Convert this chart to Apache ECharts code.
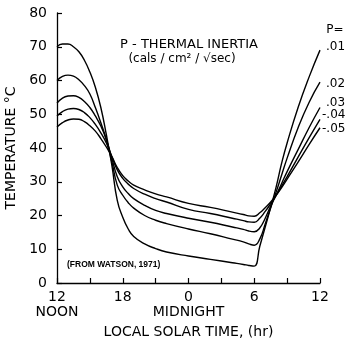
<!DOCTYPE html>
<html>
<head>
<meta charset="utf-8">
<script src="https://cdn.jsdelivr.net/npm/echarts@6/dist/echarts.min.js"></script>
<style>
html,body{margin:0;padding:0;background:#fff;}
#chart{width:350px;height:342px;}
</style>
</head>
<body>
<div id="chart"></div>
<script>
// Local solar time (hours since previous midnight; 24 = midnight, 36 = next noon)
const hours = [12, 12.5, 13, 13.5, 14, 14.5, 15, 15.5, 16, 16.5, 17, 17.5, 18, 18.5, 19, 20, 21, 22, 24, 26, 28, 29, 29.5, 30, 30.5, 31, 31.5, 32, 32.5, 33, 34, 35, 36];

// Temperature (°C) for each thermal inertia P
const p01 = [70, 70.8, 70.8, 70, 68.5, 66, 62.5, 58, 52, 44, 35, 24.5, 19.5, 16, 13.8, 11.6, 10.2, 9.2, 8, 7, 6, 5.5, 5.2, 5, 10.8, 16.6, 22.4, 28.5, 35.5, 41.5, 52, 61, 69];
const p02 = [60, 61.2, 61.6, 61.3, 60.2, 58.5, 56, 52, 47.5, 42.5, 36, 29, 26, 23.8, 22.2, 20, 18.6, 17.6, 16, 14.6, 13, 12.2, 11.6, 11.2, 13, 17.5, 22.3, 27, 32, 37, 46, 53.5, 59.5];
const p03 = [53.3, 54.8, 55.4, 55.5, 55, 53.8, 52, 49.5, 46.5, 42.5, 37, 31.5, 28.5, 26.5, 25, 23, 21.5, 20.6, 19.2, 18, 16.6, 15.9, 15.4, 15.2, 16.3, 19.2, 22.8, 26, 29.5, 33, 39.5, 46, 52];
const p04 = [49.5, 50.8, 51.5, 51.7, 51.4, 50.5, 49, 47, 44.5, 41.5, 37.5, 33.5, 31, 29.3, 28, 26.3, 25, 24, 21.8, 20.6, 19.2, 18.5, 18.1, 18, 19.2, 21.2, 23.5, 26, 28.7, 31.5, 37.3, 43, 48.5];
const p05 = [46.2, 47.5, 48.3, 48.6, 48.5, 47.8, 46.6, 45, 42.8, 40.3, 37.5, 34.2, 31.8, 30.2, 29, 27.6, 26.4, 25.5, 23.6, 22.4, 21, 20.3, 19.9, 19.8, 20.8, 22.3, 24, 26, 28.3, 30.8, 35.8, 41, 46];

const seriesNames = ['.01', '.02', '.03', '.04', '.05'];
const seriesLabels = ['.01', '.02', '.03', '-.04', '-.05'];

// Tick labels
const xTickValues = [12, 18, 24, 30, 36];
const xTickLabels = ['12\nNOON', '18', '0\u200b\nMIDNIGHT', '6', '12'];
const yTickLabels = ['0', '10', '20', '30', '40', '50', '60', '70', '80'];

const allSeries = [p01, p02, p03, p04, p05];
const labelOffsets = [[2, -3], [2, 2], [2, -5], [-2, -4], [-2, 1]];

const FONT = 'DejaVu Sans';
const chart = echarts.init(document.getElementById('chart'), null, {renderer: 'canvas'});

const option = {
  animation: false,
  backgroundColor: '#fff',
  grid: {left: 57, right: 30, top: 13, bottom: 59, containLabel: false, outerBoundsMode: 'none'},
  xAxis: {
    type: 'value', min: 12, max: 36, interval: 3,
    name: 'LOCAL SOLAR TIME, (hr)', nameLocation: 'middle', nameGap: 38,
    nameTextStyle: {color: '#000', fontSize: 14, fontFamily: FONT},
    axisLine: {lineStyle: {color: '#000', width: 1.3}},
    axisTick: {inside: true, length: 5, lineStyle: {color: '#000', width: 1.2}},
    splitLine: {show: false},
    axisLabel: {
      color: '#000', fontSize: 14, fontFamily: FONT, margin: 7, lineHeight: 15,
      formatter: function (v) {
        const i = xTickValues.indexOf(Math.round(v * 1000) / 1000);
        return i < 0 ? '' : xTickLabels[i];
      }
    }
  },
  yAxis: {
    type: 'value', min: 0, max: 80, interval: 10,
    name: 'TEMPERATURE °C', nameLocation: 'middle', nameGap: 38, nameRotate: 90,
    nameTextStyle: {color: '#000', fontSize: 14, fontFamily: FONT},
    axisLine: {show: true, lineStyle: {color: '#000', width: 1.3}},
    axisTick: {show: true, inside: true, length: 5, lineStyle: {color: '#000', width: 1.2}},
    splitLine: {show: false},
    axisLabel: {
      color: '#000', fontSize: 14, fontFamily: FONT, margin: 10,
      formatter: function (v) { return yTickLabels[Math.round(v / 10)]; }
    }
  },
  graphic: [
    {type: 'text', x: 189, y: 45, style: {text: 'P - THERMAL INERTIA', fill: '#000', font: '13px "DejaVu Sans"', textAlign: 'center', textVerticalAlign: 'middle'}},
    {type: 'text', x: 182, y: 59, style: {text: '(cals / cm² / √sec)', fill: '#000', font: '12px "DejaVu Sans"', textAlign: 'center', textVerticalAlign: 'middle'}},
    {type: 'text', x: 335, y: 30, style: {text: 'P=', fill: '#000', font: '12px "DejaVu Sans"', textAlign: 'center', textVerticalAlign: 'middle'}},
    {type: 'text', x: 67, y: 265, style: {text: '(FROM WATSON, 1971)', fill: '#000', font: 'bold 8.5px "Liberation Sans"', textAlign: 'left', textVerticalAlign: 'middle'}}
  ],
  series: allSeries.map(function (vals, k) {
    return {
      name: seriesNames[k],
      type: 'line',
      data: hours.map(function (h, i) { return [h, vals[i]]; }),
      showSymbol: false,
      smooth: true,
      lineStyle: {color: '#000', width: 1.4},
      endLabel: {
        show: true, formatter: seriesLabels[k], color: '#000', fontSize: 12, fontFamily: FONT,
        distance: 4, offset: labelOffsets[k]
      },
      z: 2
    };
  })
};
chart.setOption(option);
</script>
</body>
</html>
